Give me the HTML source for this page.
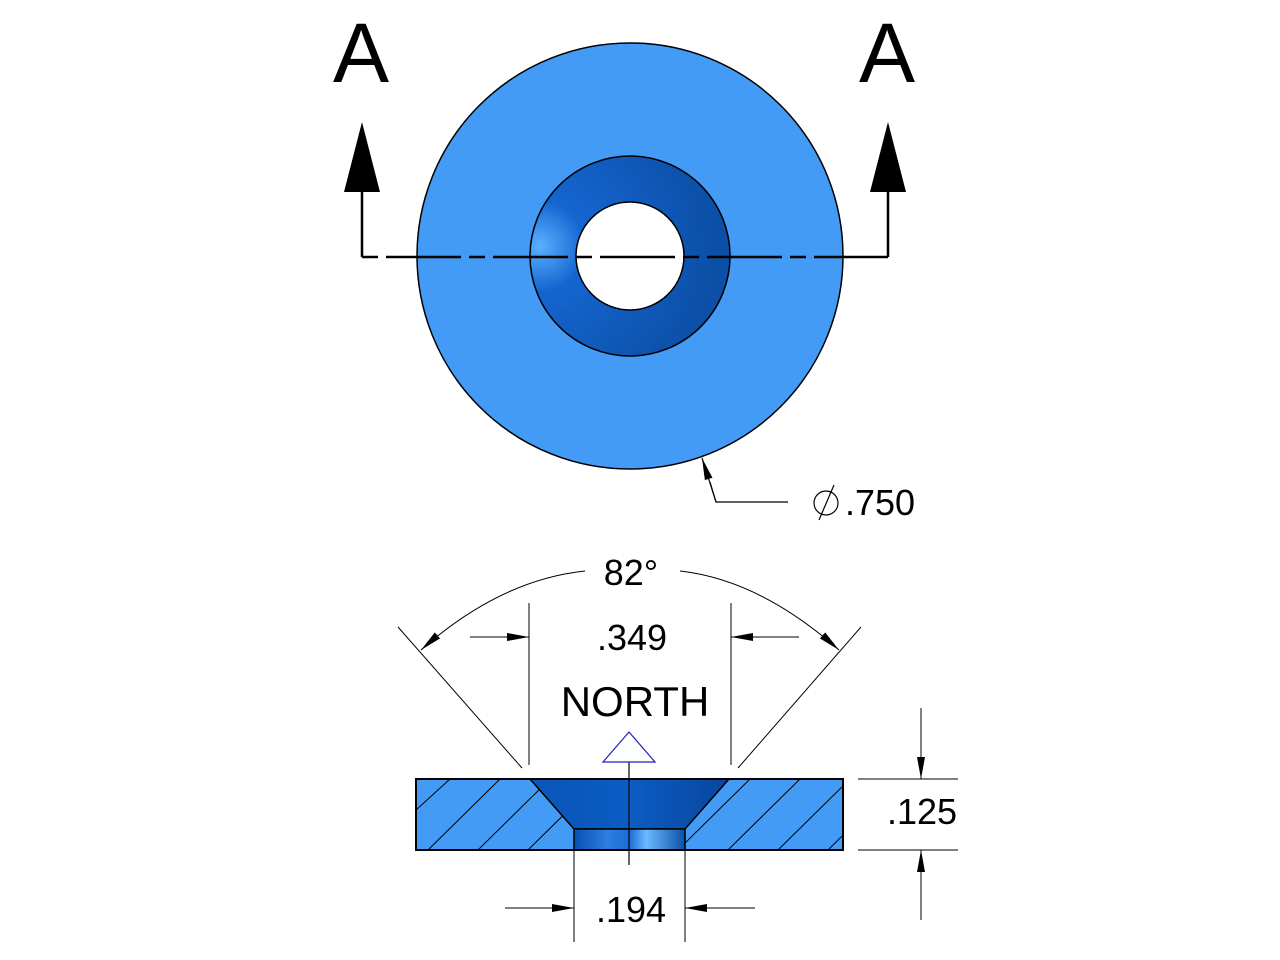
<!DOCTYPE html>
<html><head><style>html,body{margin:0;padding:0;background:#fff;}svg{display:block}</style></head>
<body>
<svg width="1280" height="960" viewBox="0 0 1280 960" xmlns="http://www.w3.org/2000/svg" font-family="Liberation Sans, Arial, sans-serif">
<defs>
<radialGradient id="ring" cx="0.05" cy="0.45" r="0.9">
<stop offset="0" stop-color="#5ab0ff"/><stop offset="0.25" stop-color="#1565d0"/><stop offset="1" stop-color="#0b4fa6"/>
</radialGradient>
<linearGradient id="hole" x1="0" x2="1" y1="0" y2="0">
<stop offset="0" stop-color="#0a4fb0"/><stop offset="0.3" stop-color="#2d7fe0"/><stop offset="0.5" stop-color="#1a6ad6"/><stop offset="0.65" stop-color="#6bbaff"/><stop offset="1" stop-color="#0a50a8"/>
</linearGradient>
<linearGradient id="cs" x1="0" x2="1" y1="0" y2="0">
<stop offset="0" stop-color="#0a55b8"/><stop offset="0.5" stop-color="#0b5cc4"/><stop offset="1" stop-color="#08479c"/>
</linearGradient>
<clipPath id="sec"><polygon points="416,779 530,779 574,829 574,850 416,850"/><polygon points="729,779 843,779 843,850 685,850 685,829"/></clipPath>
<marker id="ar" viewBox="0 0 22 10" refX="22" refY="5" markerWidth="22" markerHeight="10" markerUnits="userSpaceOnUse" orient="auto"><path d="M0,1 L22,5 L0,9 Z" fill="#000"/></marker>
</defs>
<circle cx="630" cy="256" r="213" fill="#439bf5" stroke="#000" stroke-width="1.5"/>
<circle cx="630" cy="256" r="100" fill="url(#ring)" stroke="#000" stroke-width="1.5"/>
<circle cx="630" cy="256" r="54" fill="#fff" stroke="#000" stroke-width="1.5"/>
<line x1="362" y1="257" x2="888" y2="257" stroke="#000" stroke-width="2.5" stroke-dasharray="16,8,75,8"/>
<line x1="362" y1="257" x2="362" y2="185" stroke="#000" stroke-width="2.5"/>
<line x1="888" y1="257" x2="888" y2="185" stroke="#000" stroke-width="2.5"/>
<polygon points="362,122 344,192 380,192" fill="#000"/>
<polygon points="888,122 870,192 906,192" fill="#000"/>
<text x="361" y="82" font-size="84" text-anchor="middle">A</text>
<text x="887" y="82" font-size="84" text-anchor="middle">A</text>
<polyline points="788,502 716,502 710,482" fill="none" stroke="#000" stroke-width="1.2"/>
<line x1="716" y1="502" x2="702" y2="458" stroke="#000" stroke-width="1.2" marker-end="url(#ar)"/>
<circle cx="826" cy="503" r="12" fill="none" stroke="#000" stroke-width="1.2"/>
<line x1="819" y1="520" x2="834" y2="485" stroke="#000" stroke-width="1.2"/>
<text x="845" y="515" font-size="36">.750</text>
<rect x="416" y="779" width="427" height="71" fill="#439bf5"/>
<g clip-path="url(#sec)" stroke="#000" stroke-width="1">
<line x1="416" y1="810" x2="450" y2="779"/>
<line x1="428" y1="850" x2="500" y2="779"/>
<line x1="478" y1="850" x2="550" y2="779"/>
<line x1="528" y1="850" x2="600" y2="779"/>
<line x1="578" y1="850" x2="650" y2="779"/>
<line x1="628" y1="850" x2="700" y2="779"/>
<line x1="678" y1="850" x2="750" y2="779"/>
<line x1="728" y1="850" x2="800" y2="779"/>
<line x1="778" y1="850" x2="850" y2="779"/>
<line x1="828" y1="850" x2="900" y2="779"/>
</g>
<polygon points="530,779 729,779 685,829 574,829" fill="url(#cs)" stroke="#000" stroke-width="1.5"/>
<rect x="574" y="829" width="111" height="21" fill="url(#hole)" stroke="#000" stroke-width="1.5"/>
<rect x="416" y="779" width="427" height="71" fill="none" stroke="#000" stroke-width="2"/>
<line x1="629" y1="737" x2="629" y2="865" stroke="#000" stroke-width="1.2"/>
<polygon points="629,732 603,762 655,762" fill="#fff" stroke="#2020c0" stroke-width="1.2"/>
<text x="635" y="716" font-size="42" text-anchor="middle">NORTH</text>
<line x1="529" y1="603" x2="529" y2="765" stroke="#000" stroke-width="1"/>
<line x1="731" y1="603" x2="731" y2="765" stroke="#000" stroke-width="1"/>
<line x1="470" y1="637" x2="529" y2="637" stroke="#000" stroke-width="1" marker-end="url(#ar)"/>
<line x1="799" y1="637" x2="731" y2="637" stroke="#000" stroke-width="1" marker-end="url(#ar)"/>
<text x="632" y="650" font-size="36" text-anchor="middle">.349</text>
<line x1="522" y1="768" x2="398" y2="627" stroke="#000" stroke-width="1"/>
<line x1="738" y1="768" x2="861" y2="627" stroke="#000" stroke-width="1"/>
<path d="M585,571 Q500,580 421,650" fill="none" stroke="#000" stroke-width="1" marker-end="url(#ar)"/>
<path d="M680,571 Q760,580 839,650" fill="none" stroke="#000" stroke-width="1" marker-end="url(#ar)"/>
<text x="631" y="585" font-size="36" text-anchor="middle">82°</text>
<line x1="574" y1="850" x2="574" y2="942" stroke="#000" stroke-width="1"/>
<line x1="685" y1="850" x2="685" y2="942" stroke="#000" stroke-width="1"/>
<line x1="505" y1="908" x2="574" y2="908" stroke="#000" stroke-width="1" marker-end="url(#ar)"/>
<line x1="755" y1="908" x2="685" y2="908" stroke="#000" stroke-width="1" marker-end="url(#ar)"/>
<text x="631" y="922" font-size="36" text-anchor="middle">.194</text>
<line x1="858" y1="779" x2="958" y2="779" stroke="#000" stroke-width="1"/>
<line x1="858" y1="850" x2="958" y2="850" stroke="#000" stroke-width="1"/>
<line x1="921" y1="708" x2="921" y2="779" stroke="#000" stroke-width="1" marker-end="url(#ar)"/>
<line x1="921" y1="920" x2="921" y2="850" stroke="#000" stroke-width="1" marker-end="url(#ar)"/>
<text x="922" y="824" font-size="36" text-anchor="middle">.125</text>
</svg>
</body></html>
